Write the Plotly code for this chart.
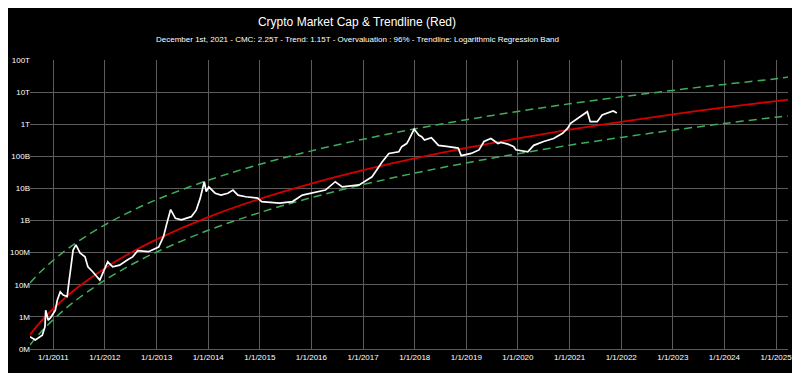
import plotly.graph_objects as go

# ---- Market cap ----
cap_dates = [
    "2010-07-20", "2010-08-27", "2010-10-15", "2010-11-03", "2010-11-08", "2010-11-26", "2010-12-10",
    "2011-01-15", "2011-01-29", "2011-02-19", "2011-03-12", "2011-04-09", "2011-04-16", "2011-04-30",
    "2011-05-21", "2011-06-10", "2011-07-09", "2011-08-13", "2011-09-03", "2011-10-08", "2011-11-05",
    "2011-11-26", "2011-12-17", "2012-01-21", "2012-02-25", "2012-04-14", "2012-06-10", "2012-07-15",
    "2012-08-20", "2012-11-04", "2013-01-15", "2013-02-19", "2013-03-11", "2013-04-06", "2013-04-10",
    "2013-05-14", "2013-06-25", "2013-09-03", "2013-10-08", "2013-11-05", "2013-11-26", "2013-12-04",
    "2013-12-18", "2014-01-05", "2014-02-19", "2014-04-01", "2014-05-20", "2014-06-25", "2014-07-30",
    "2014-09-24", "2014-12-17", "2015-01-14", "2015-05-21", "2015-08-20", "2015-10-29", "2016-01-08",
    "2016-04-09", "2016-06-18", "2016-08-06", "2016-12-04", "2017-03-05", "2017-05-14", "2017-07-02",
    "2017-09-10", "2017-10-01", "2017-11-05", "2017-11-19", "2017-12-28", "2018-01-29", "2018-02-19",
    "2018-03-11", "2018-04-29", "2018-06-18", "2018-08-27", "2018-11-05", "2018-11-26", "2019-02-04",
    "2019-04-01", "2019-05-06", "2019-06-24", "2019-08-13", "2019-09-03", "2019-10-22", "2019-12-03",
    "2019-12-17", "2020-03-11", "2020-04-22", "2020-07-01", "2020-09-10", "2020-11-12", "2020-12-17",
    "2021-01-08", "2021-02-26", "2021-05-06", "2021-05-27", "2021-07-15", "2021-08-19", "2021-09-24",
    "2021-11-05", "2021-12-01",
]
cap_values = [
    2.4e5, 1.9e5, 2.7e5, 4.9e5, 1.6e6, 7.9e5, 9.1e5,
    1.6e6, 3.3e6, 6.0e6, 4.8e6, 4.3e6, 7.9e6, 2.3e7,
    1.2e8, 1.74e8, 9.8e7, 7.4e7, 3.6e7, 2.5e7, 1.8e7,
    1.4e7, 2.3e7, 5.2e7, 3.6e7, 4.1e7, 6.0e7, 7.4e7,
    1.15e8, 1.07e8, 1.5e8, 3.2e8, 7.2e8, 1.86e9, 2.2e9,
    1.17e9, 1.05e9, 1.32e9, 2.1e9, 4.9e9, 1.29e10, 1.62e10,
    8.0e9, 1.12e10, 7.1e9, 6.2e9, 7.1e9, 8.9e9, 6.2e9,
    5.5e9, 5.0e9, 3.9e9, 3.5e9, 3.9e9, 6.2e9, 7.1e9,
    8.9e9, 1.62e10, 1.12e10, 1.29e10, 2.3e10, 6.5e10, 1.23e11,
    1.38e11, 2.0e11, 2.5e11, 3.2e11, 7.1e11, 4.6e11, 4.1e11,
    3.2e11, 3.8e11, 2.2e11, 2.0e11, 1.8e11, 1.05e11, 1.23e11,
    1.58e11, 2.9e11, 3.6e11, 2.5e11, 2.7e11, 2.4e11, 2.0e11,
    1.6e11, 1.38e11, 2.2e11, 2.9e11, 3.6e11, 5.2e11, 7.4e11,
    1.07e12, 1.5e12, 2.45e12, 1.2e12, 1.2e12, 1.95e12, 2.2e12,
    2.6e12, 2.25e12,
]

# ---- Trendline and band ----
band_dates = [
    "2010-07-20", "2010-10-01", "2011-01-01", "2011-04-01", "2011-07-01", "2012-01-01", "2012-07-01",
    "2013-01-01", "2014-01-01", "2015-01-01", "2016-01-01", "2017-01-01", "2018-01-01", "2019-01-01",
    "2020-01-01", "2021-01-01", "2022-01-01", "2023-01-01", "2024-01-01", "2025-01-01", "2025-03-26",
]
trend_values = [
    2.8e5, 6.87e5, 1.80e6, 4.15e6, 8.83e6, 3.30e7, 9.91e7,
    2.60e8, 1.28e9, 4.72e9, 1.42e10, 3.71e10, 8.61e10, 1.83e11,
    3.61e11, 6.75e11, 1.19e12, 2.03e12, 3.33e12, 5.28e12, 5.83e12,
]
upper_values = [
    1.14e7, 2.49e7, 5.79e7, 1.20e8, 2.32e8, 7.35e8, 1.92e9,
    4.48e9, 1.80e10, 5.64e10, 1.48e11, 3.42e11, 7.14e11, 1.38e12,
    2.50e12, 4.32e12, 7.11e12, 1.13e13, 1.74e13, 2.61e13, 2.95e13,
]
lower_values = [
    1.34e5, 3.21e5, 8.22e5, 1.86e6, 3.87e6, 1.40e7, 4.09e7,
    1.05e8, 4.97e8, 1.77e9, 5.19e9, 1.32e10, 3.00e10, 6.25e10,
    1.21e11, 2.23e11, 3.89e11, 6.53e11, 1.06e12, 1.66e12, 1.82e12,
]

# ---- Axis ticks ----
x_tick_vals = ["%d-01-01" % y for y in range(2011, 2026)]
x_tick_text = ["1/1/%d" % y for y in range(2011, 2026)]
y_tick_vals = [1e5, 1e6, 1e7, 1e8, 1e9, 1e10, 1e11, 1e12, 1e13, 1e14]
y_tick_text = ["0M", "1M", "10M", "100M", "1B", "10B", "100B", "1T", "10T", "100T"]

title_text = "Crypto Market Cap & Trendline (Red)"
subtitle_text = ("December 1st, 2021 - CMC: 2.25T - Trend: 1.15T - Overvaluation : 96% - "
                 "Trendline: Logarithmic Regression Band")

FONT = "Liberation Sans, Arial, sans-serif"
GREEN = "#3fae5a"
GRID = "#5c5c5c"

# The page body adds an 8px offset, so the figure is 8px smaller each way.
W, H = 792, 365
L, R, T, B = 22, 12, 52, 24
pw = W - L - R

fig = go.Figure()
fig.add_trace(go.Scatter(x=band_dates, y=upper_values, mode="lines",
                         line=dict(color=GREEN, width=1.5, dash="8px,5px", shape="spline")))
fig.add_trace(go.Scatter(x=band_dates, y=lower_values, mode="lines",
                         line=dict(color=GREEN, width=1.5, dash="8px,5px", shape="spline")))
fig.add_trace(go.Scatter(x=band_dates, y=trend_values, mode="lines",
                         line=dict(color="#d40000", width=1.8, shape="spline")))
fig.add_trace(go.Scatter(x=cap_dates, y=cap_values, mode="lines",
                         line=dict(color="#ffffff", width=1.7)))

fig.update_layout(
    width=W, height=H,
    paper_bgcolor="#000000", plot_bgcolor="#000000",
    showlegend=False,
    margin=dict(l=L, r=R, t=T, b=B, pad=0),
    font=dict(family=FONT, color="#ffffff", size=8),
    title=dict(text=title_text, xref="container", yref="container",
               x=349 / W, y=1 - 14 / H, xanchor="center", yanchor="middle",
               font=dict(family=FONT, size=12, color="#ffffff")),
    annotations=[dict(text=subtitle_text, xref="paper", yref="paper",
                      x=(349 - L) / pw, y=(341 - 31) / 289,
                      xanchor="center", yanchor="middle", showarrow=False,
                      font=dict(family=FONT, size=8, color="#ffffff"))],
)
fig.update_xaxes(
    type="date", range=["2010-07-20", "2025-03-26"],
    tickvals=x_tick_vals, ticktext=x_tick_text,
    showgrid=True, gridcolor=GRID, gridwidth=1,
    showline=True, linecolor=GRID, linewidth=1,
    ticks="", zeroline=False, automargin=False,
    tickfont=dict(family=FONT, size=8, color="#ffffff"),
)
fig.update_yaxes(
    type="log", range=[5, 14],
    tickvals=y_tick_vals, ticktext=y_tick_text,
    showgrid=True, gridcolor=GRID, gridwidth=1,
    showline=False, ticks="", zeroline=False, automargin=False,
    ticklabelstandoff=-1,
    tickfont=dict(family=FONT, size=8, color="#ffffff"),
)

fig.write_html("out.html")
